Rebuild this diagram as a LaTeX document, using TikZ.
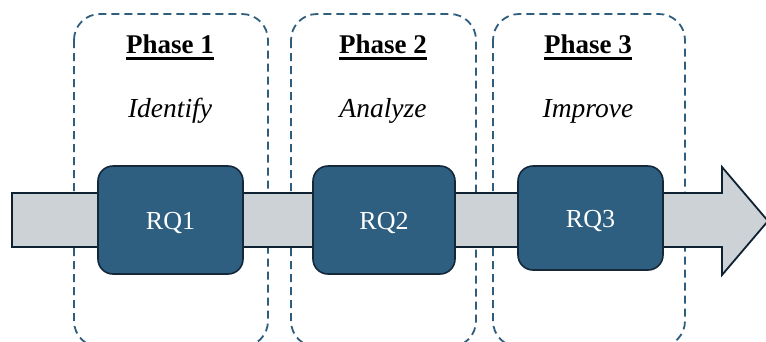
\documentclass[tikz,border=0pt]{standalone}
\usepackage{fontspec}
\setmainfont{Liberation Serif}
\definecolor{phaseblue}{HTML}{2F5D7E}
\definecolor{rqfill}{HTML}{2E5F80}
\definecolor{rqedge}{HTML}{14283A}
\definecolor{bandfill}{HTML}{CDD2D6}
\definecolor{bandedge}{HTML}{0F2233}
\tikzset{
  phasebox/.style={draw=phaseblue, line width=1.8pt, dash pattern=on 8pt off 5pt, rounded corners=26pt},
  rqbox/.style={draw=rqedge, fill=rqfill, line width=1.6pt, rounded corners=15pt},
  phasetitle/.style={anchor=base, inner sep=0pt, font=\fontsize{27}{32}\selectfont\bfseries},
  phaseverb/.style={anchor=base, inner sep=0pt, font=\fontsize{27.5}{32}\selectfont\itshape},
  rqlabel/.style={anchor=base, inner sep=0pt, text=white, font=\fontsize{26}{30}\selectfont},
  uline/.style={line width=2.8pt, black}
}
\begin{document}
\begin{tikzpicture}[x=1pt, y=-1pt]
\useasboundingbox (0,0) rectangle (766,341);
\begin{scope}
\clip (0,0) rectangle (766,341);
% phase frames, running off the lower edge
\draw[phasebox] (74,14) rectangle (268,347);
\draw[phasebox] (291,14) rectangle (476,347);
\draw[phasebox] (493,14) rectangle (685,347);
% timeline arrow
\draw[fill=bandfill, draw=bandedge, line width=1.8pt, line join=miter]
  (12,193) -- (722,193) -- (722,167) -- (768,221) -- (722,275) -- (722,247) -- (12,247) -- cycle;
\end{scope}
% research questions
\draw[rqbox] (98,166) rectangle (243,274);
\draw[rqbox] (313,166) rectangle (455,274);
\draw[rqbox] (518,166) rectangle (663,270);
\node[rqlabel] (rq1) at (170.5,229) {RQ1};
\node[rqlabel] (rq2) at (384,229) {RQ2};
\node[rqlabel] (rq3) at (590.5,227) {RQ3};
% phase titles
\node[phasetitle] (p1) at (170,53) {Phase 1};
\node[phasetitle] (p2) at (383,53) {Phase 2};
\node[phasetitle] (p3) at (588,53) {Phase 3};
\foreach \p in {p1,p2,p3}
  \draw[uline] ([yshift=-5.5pt]\p.base west) -- ([yshift=-5.5pt]\p.base east);
\node[phaseverb] (v1) at (170,117) {Identify};
\node[phaseverb] (v2) at (383,117) {Analyze};
\node[phaseverb] (v3) at (588,117) {Improve};
\end{tikzpicture}
\end{document}
